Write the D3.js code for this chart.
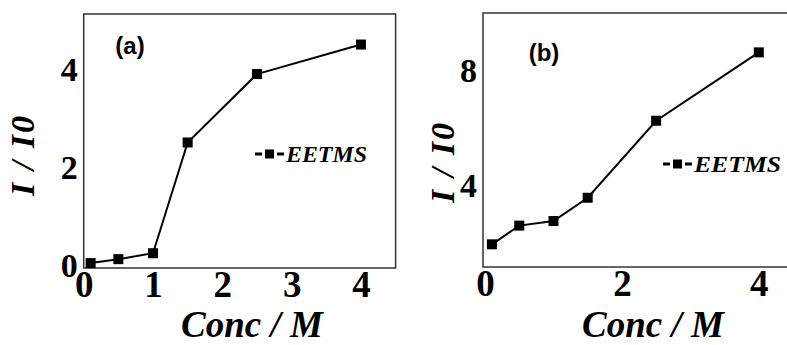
<!DOCTYPE html>
<html>
<head>
<meta charset="utf-8">
<script src="https://cdn.jsdelivr.net/npm/d3@7"></script>
<style>
  html, body { margin: 0; padding: 0; background: #fff; }
  svg { display: block; }
  .tick text { font-family: "Liberation Serif", "Times New Roman", serif; font-weight: bold; fill: #000; }
</style>
</head>
<body>
<svg id="chart" width="787" height="345"></svg>
<script>
// ---- data ----
const concA = [0.1, 0.5, 1.0, 1.5, 2.5, 4.0];
const ratioA = [0.06, 0.14, 0.26, 2.51, 3.9, 4.5];
const concB = [0.1, 0.5, 1.0, 1.5, 2.5, 4.0];
const ratioB = [1.97, 2.62, 2.78, 3.59, 6.27, 8.65];
const xTicksA = [0, 1, 2, 3, 4];
const yTicksA = [0, 2, 4];
const xTicksB = [0, 2, 4];
const yTicksB = [4, 8];
const seriesName = "EETMS";
const panelLabels = ["(a)", "(b)"];
const xTitle = "Conc / M";
const yTitle = "I / I0";

const svg = d3.select("#chart");

function panel(cfg) {
  const g = svg.append("g");
  const x = d3.scaleLinear().domain(cfg.xDomain).range([cfg.left, cfg.right]);
  const y = d3.scaleLinear().domain(cfg.yDomain).range([cfg.bottom, cfg.top]);

  // frame
  g.append("rect")
    .attr("x", cfg.left).attr("y", cfg.top)
    .attr("width", cfg.right - cfg.left).attr("height", cfg.bottom - cfg.top)
    .attr("fill", "none").attr("stroke", "#333").attr("stroke-width", 1.5);

  // x axis
  const xa = g.append("g").attr("transform", `translate(0,${cfg.bottom})`)
    .call(d3.axisBottom(x).tickValues(cfg.xTicks).tickSize(0).tickPadding(3).tickFormat(d3.format("d")));
  xa.select(".domain").remove();
  xa.selectAll("text").style("font-size", "37px");

  // y axis
  const ya = g.append("g").attr("transform", `translate(${cfg.left},0)`)
    .call(d3.axisLeft(y).tickValues(cfg.yTicks).tickSize(0).tickPadding(6).tickFormat(d3.format("d")));
  ya.select(".domain").remove();
  ya.selectAll("text").style("font-size", "34px");

  // line
  const pts = cfg.xs.map((v, i) => [v, cfg.ys[i]]);
  g.append("path").datum(pts)
    .attr("fill", "none").attr("stroke", "#000").attr("stroke-width", 2)
    .attr("d", d3.line().x(d => x(d[0])).y(d => y(d[1])));
  const ms = 10;
  g.selectAll("rect.m").data(pts).join("rect").attr("class", "m")
    .attr("x", d => x(d[0]) - ms / 2).attr("y", d => y(d[1]) - ms / 2)
    .attr("width", ms).attr("height", ms).attr("fill", "#000");

  // panel label
  g.append("text").attr("x", cfg.labX).attr("y", cfg.labY)
    .attr("text-anchor", "middle")
    .style("font-family", "'Liberation Sans', Arial, sans-serif")
    .style("font-weight", "bold").style("font-size", "24px")
    .text(cfg.label);

  // legend
  const lx = cfg.legX, ly = cfg.legY;
  g.append("line").attr("x1", lx).attr("x2", lx + 7).attr("y1", ly).attr("y2", ly)
    .attr("stroke", "#000").attr("stroke-width", 3);
  g.append("rect").attr("x", lx + 10).attr("y", ly - 4.5).attr("width", 9).attr("height", 9).attr("fill", "#000");
  g.append("line").attr("x1", lx + 22).attr("x2", lx + 29).attr("y1", ly).attr("y2", ly)
    .attr("stroke", "#000").attr("stroke-width", 3);
  g.append("text").attr("x", lx + 31).attr("y", ly + 8)
    .attr("textLength", cfg.legW).attr("lengthAdjust", "spacingAndGlyphs")
    .style("font-family", "'Liberation Serif', 'Times New Roman', serif")
    .style("font-weight", "bold").style("font-style", "italic").style("font-size", "24px")
    .text(seriesName);

  // axis titles
  g.append("text").attr("x", cfg.xtX).attr("y", 337)
    .attr("text-anchor", "middle")
    .style("font-family", "'Liberation Serif', 'Times New Roman', serif")
    .style("font-weight", "bold").style("font-style", "italic").style("font-size", "37px")
    .text(xTitle);
  g.append("text")
    .attr("transform", `translate(${cfg.ytX},${cfg.ytY}) rotate(-90)`)
    .attr("text-anchor", "middle")
    .attr("textLength", 80).attr("lengthAdjust", "spacing")
    .style("font-family", "'Liberation Serif', 'Times New Roman', serif")
    .style("font-weight", "bold").style("font-style", "italic").style("font-size", "34px")
    .text(yTitle);
}

panel({
  xs: concA, ys: ratioA, xTicks: xTicksA, yTicks: yTicksA,
  xDomain: [0, 4.5], yDomain: [-0.04, 5.12],
  left: 83.7, right: 395.6, top: 14, bottom: 268,
  label: panelLabels[0], labX: 130, labY: 54,
  legX: 255, legY: 154, legW: 81,
  xtX: 252, ytX: 34, ytY: 156
});

panel({
  xs: concB, ys: ratioB, xTicks: xTicksB, yTicks: yTicksB,
  xDomain: [-0.03, 4.5], yDomain: [1.18, 10.02],
  left: 483, right: 793, top: 13, bottom: 267,
  label: panelLabels[1], labX: 544, labY: 61,
  legX: 663, legY: 164, legW: 87,
  xtX: 653, ytX: 454, ytY: 163
});
</script>
</body>
</html>
